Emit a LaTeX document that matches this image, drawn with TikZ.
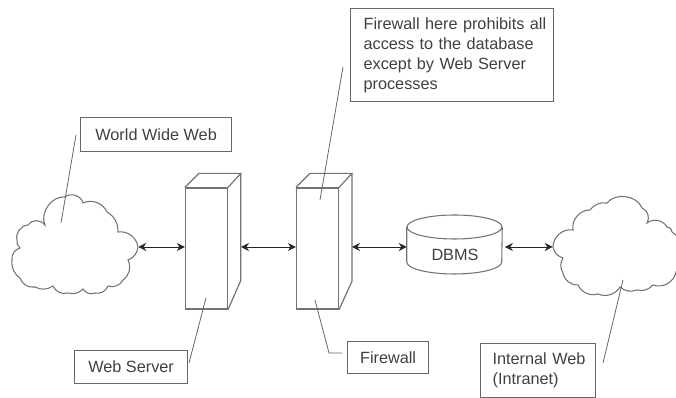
\documentclass[tikz,border=0pt]{standalone}
\usepackage{fontspec}
\setmainfont{Liberation Sans}
\usetikzlibrary{arrows.meta}
\tikzset{
  labelbox/.style={draw=black!60,line width=0.9pt,text=black!75,align=left,inner sep=0pt,anchor=north west},
  column/.style={draw=black!55,line width=0.9pt,inner sep=0pt,minimum width=31.5pt,minimum height=90.75pt},
  leader/.style={draw=black!60,line width=0.6pt},
  link/.style={{Stealth[length=6pt,width=6pt]}-{Stealth[length=6pt,width=6pt]},black!85,line width=0.7pt},
  outline/.style={draw=black!55,line width=0.8pt},
}
\begin{document}
\begin{tikzpicture}[x=0.75pt,y=-0.75pt]
    \useasboundingbox (0,0) rectangle (676,398);
    \fontsize{12.2}{15}\selectfont
    % left cloud
    \draw[outline] (138,247) to[bend right=45] (118,232) to[bend right=30] (107,212) to[bend right=45] (83,203) to[bend right=60] (65,197) to[bend right=60] (45,225) to[bend right=60] (28,225) to[bend right=50] (17,240) to[bend right=30] (20,248) to[bend right=40] (12,260) to[bend right=30] (20,278) to[bend right=40] (35,287) to[bend right=30] (53,286) to[bend right=40] (68,293) to[bend right=30] (83,289) to[bend right=40] (95,293) to[bend right=40] (108,286) to[bend right=40] (123,280) to[bend right=40] (128,260) to[bend right=30] cycle;
    \node (wwwcloud) at (75,247) [minimum width=94.5pt,minimum height=30pt,inner sep=0pt] {};
    % right cloud
    \draw[outline] (553,247) to[bend right=30] (563,258) to[bend right=30] (563,273) to[bend right=40] (578,285) to[bend right=40] (598,294) to[bend right=40] (620,287) to[bend right=30] (637,290) to[bend right=30] (653,285) to[bend right=50] (676,272) to[bend right=50] (672,232) to[bend right=50] (667,227) to[bend right=50] (647,223) to[bend right=50] (642,208) to[bend right=60] (607,203) to[bend right=30] (590,210) to[bend right=50] (573,230) to[bend right=50] cycle;
    \node (intranetcloud) at (614,247) [minimum width=91.5pt,minimum height=30pt,inner sep=0pt] {};
    % columns
    \node (webserver) at (206.4,248.5) [column] {};
    \draw[outline,line width=0.9pt] (webserver.north west) -- +(14,-14) -- +(56,-14) -- (webserver.north east) (webserver.north west) ++(56,-14) -- +(0,107) -- (webserver.south east);
    \coordinate (serverback) at (241,247);
    \node (firewall) at (317.5,248.5) [column] {};
    \draw[outline,line width=0.9pt] (firewall.north west) -- +(14,-14) -- +(56,-14) -- (firewall.north east) (firewall.north west) ++(56,-14) -- +(0,108) -- (firewall.south east);
    \coordinate (wallback) at (352,247);
    % database
    \node (dbms) at (454.5,244.5) [minimum width=71.25pt,minimum height=44.25pt,inner sep=0pt] {};
    \draw[outline] (454.5,227) ellipse [x radius=47.5,y radius=12];
    \draw[outline] (dbms.west |- 0,227) -- (dbms.west |- 0,262) arc[start angle=180,end angle=0,x radius=47.5,y radius=12] -- (dbms.east |- 0,227);
    \node (dbmstext) at (455,255) [text=black!75] {DBMS};
    % labels
    \node (wwwlabel) at (80,117) [labelbox,minimum width=113.25pt,minimum height=25.5pt,align=center] {World Wide Web};
    \node (serverlabel) at (74,350) [labelbox,minimum width=84.75pt,minimum height=24.75pt,align=center] {Web Server};
    \node (walllabel) at (347,341) [labelbox,minimum width=60.75pt,minimum height=24pt,align=center] {Firewall};
    \node (intranetlabel) at (480,343) [labelbox,minimum height=40.5pt,text width=86.25pt] {\hspace*{9pt}Internal Web\\\hspace*{9pt}(Intranet)};
    \node (notelabel) at (350,8) [labelbox,minimum height=69.75pt,text width=152.25pt] {\hspace*{9.75pt}Firewall here prohibits all\\\hspace*{9.75pt}access to the database\\\hspace*{9.75pt}except by Web Server\\\hspace*{9.75pt}processes};
    % arrows
    \draw[link] (wwwcloud.east) -- (wwwcloud.east -| webserver.west);
    \draw[link] (serverback) -- (serverback -| firewall.west);
    \draw[link] (wallback) -- (wallback -| dbms.west);
    \draw[link,shorten >=2pt] (intranetcloud.west) -- (intranetcloud.west -| dbms.east);
    % leader lines
    \coordinate (wwwfoot) at (76,135);
    \coordinate (wwwtip) at (61,223);
    \draw[leader] (wwwfoot) -- (wwwtip);
    \coordinate (serverfoot) at (189,363);
    \coordinate (servertip) at (206,298);
    \draw[leader] (serverfoot) -- (servertip);
    \coordinate (walltip) at (315,300);
    \coordinate (wallbend) at (329,353);
    \coordinate (wallfoot) at (342,353);
    \draw[leader] (walltip) -- (wallbend) -- (wallfoot);
    \coordinate (intranettip) at (623,280);
    \coordinate (intranetfoot) at (603,363);
    \draw[leader] (intranettip) -- (intranetfoot);
    \coordinate (notefoot) at (343,67);
    \coordinate (notetip) at (320,200);
    \draw[leader] (notefoot) -- (notetip);
\end{tikzpicture}
\end{document}
